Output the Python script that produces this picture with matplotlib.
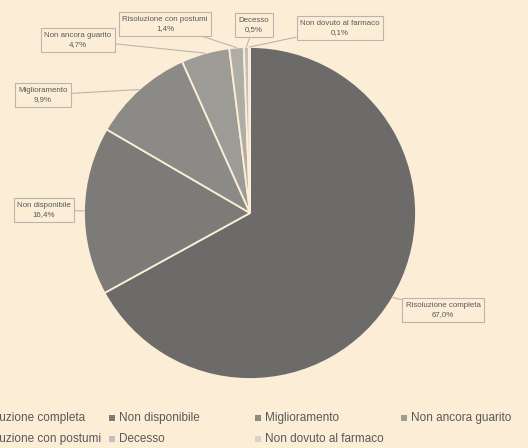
import matplotlib.pyplot as plt
import numpy as np
from matplotlib.patches import Rectangle

plt.rcParams["font.family"] = ["Liberation Sans", "DejaVu Sans"]

categories = [
    "Risoluzione completa",
    "Non disponibile",
    "Miglioramento",
    "Non ancora guarito",
    "Risoluzione con postumi",
    "Decesso",
    "Non dovuto al farmaco",
]
values = [67.0, 16.4, 9.9, 4.7, 1.4, 0.5, 0.1]
colors = ["#6c6b69", "#7c7b78", "#8c8a86", "#9d9b95", "#afada6", "#c3c0b9", "#d6d2ca"]

# label box centres, pixels from top-left
label_pos = [(443, 310), (44, 210), (43, 95), (78, 40), (165, 24), (254, 25), (340, 28)]

bg = "#fcedd7"
txt = "#595959"
W, H = 528, 448

fig = plt.figure(figsize=(W / 100, H / 100), dpi=100, facecolor=bg)
cx, cy, r = 250, 213, 166
ax = fig.add_axes([(cx - r) / W, (H - cy - r) / H, 2 * r / W, 2 * r / H])
wedges, _ = ax.pie(
    values,
    colors=colors,
    startangle=90,
    counterclock=False,
    radius=1,
    wedgeprops=dict(edgecolor=bg, linewidth=1.3),
)
ax.set_xlim(-1, 1)
ax.set_ylim(-1, 1)
ax.axis("off")

for w, lab, v, (lx, ly) in zip(wedges, categories, values, label_pos):
    mid = np.deg2rad((w.theta1 + w.theta2) / 2)
    ax.annotate(
        f"{lab}\n{v:.1f}".replace(".", ",") + "%",
        xy=(np.cos(mid), np.sin(mid)),
        xytext=(lx, H - ly),
        textcoords="figure pixels",
        ha="center",
        va="center",
        fontsize=5.7,
        color=txt,
        linespacing=1.45,
        bbox=dict(boxstyle="square,pad=0.45", facecolor=bg, edgecolor="#bab6ae", linewidth=0.8),
        arrowprops=dict(arrowstyle="-", color="#bab6ae", linewidth=0.8, shrinkA=0, shrinkB=0),
    )

# legend, row-wise, 4 columns (first column runs off the left edge)
x0, dx = -34, 146
rows_y = [418, 439]
for i, (lab, c) in enumerate(zip(categories, colors)):
    row, col = divmod(i, 4)
    mx = x0 + col * dx
    my = rows_y[row]
    fig.add_artist(
        Rectangle(((mx - 3) / W, (H - my - 3) / H), 6 / W, 6 / H,
                  transform=fig.transFigure, facecolor=c, edgecolor="none")
    )
    fig.text((mx + 7) / W, (H - my) / H, lab, fontsize=8.5, color=txt, va="center", ha="left")

fig.savefig("out.png", dpi=100, facecolor=bg)
